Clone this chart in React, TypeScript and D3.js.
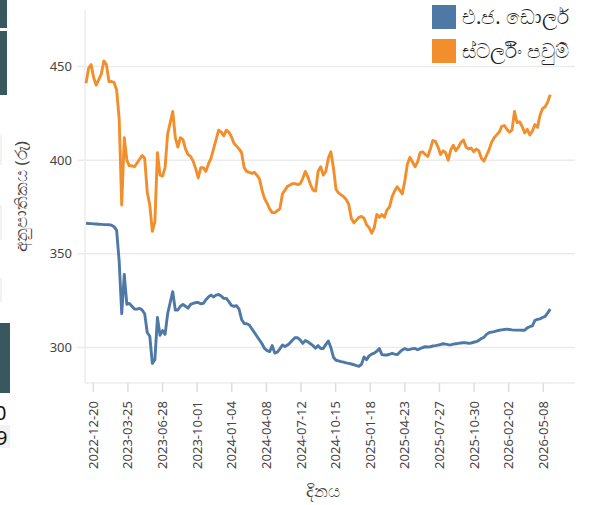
import React from "react";
import * as d3 from "d3";

const SERIES_NAMES = ["එ.ජ. ඩොලර්", "ස්ටර්ලිං පවුම්"];
const SERIES_COLORS = ["#4e79a7", "#f28e2b"];
const X_TITLE = "දිනය";
const Y_TITLE = "අනුපාතිකය (රු)";
const START_DATE = "2022-11-30";
const STEP_DAYS = 7;

const USD = [
  366.3, 366.2, 366.1, 366, 365.9, 365.8, 365.7, 365.6, 365.6, 365.5,
  365.3, 364.5, 362.5, 346, 318, 339, 323, 323.5, 322, 320.5,
  320.5, 320.9, 320, 318, 308, 306, 291.5, 293.5, 316, 306.5,
  309, 307, 318, 324, 329.8, 320, 320, 322, 323, 322,
  321, 323, 323.5, 324, 324, 323.3, 323.6, 325.5, 327, 328,
  327, 328, 328.3, 327.5, 326.2, 326.2, 324.5, 322.5, 322, 322.3,
  320.5, 315, 312.8, 312.7, 312, 310, 308, 306, 304, 302,
  299.5, 298.3, 297.8, 301, 297, 297.5, 299.3, 301.3, 300.5, 301.3,
  302.5, 304, 305.3, 305.2, 304, 302.2, 303.7, 303, 302, 301,
  299.6, 301, 299.5, 299.5, 301.5, 303.5, 300, 294.8, 293.2, 292.9,
  292.5, 292.2, 291.8, 291.5, 291.2, 290.8, 290.3, 290, 291, 295,
  293.5, 295.5, 296.5, 297, 298, 299.4, 296.2, 296, 296, 296.4,
  296.9, 296.5, 296.2, 297.5, 298.7, 299.5, 298.8, 299, 299.4, 299.5,
  298.8, 299.4, 300, 300.4, 300.3, 300.4, 300.8, 301, 301.3, 301.6,
  302, 301.8, 301.5, 301.4, 301.8, 302, 302.2, 302.4, 302.6, 302.5,
  302.3, 302.4, 302.8, 303.1, 303.8, 304.8, 305.4, 307, 307.9, 308.2,
  308.5, 308.9, 309.2, 309.4, 309.6, 309.8, 309.6, 309.4, 309.3, 309.3,
  309.3, 309.2, 309.2, 310.5, 311.1, 311.5, 314.5, 315, 315.3, 316,
  316.6, 318.5, 320.5,
];

const GBP = [
  441, 449, 451, 444, 440, 443, 446, 453, 451, 442,
  442, 441.5, 437.5, 422, 376, 412, 400, 397, 397, 396.5,
  398.5, 400.5, 402.5, 401, 383, 376, 362, 367, 404, 392,
  391.5, 396, 414, 420, 426, 412, 407, 412, 411, 406,
  403, 402, 399.5, 395.5, 390.5, 396, 396, 394, 398, 401,
  406, 411, 416, 415, 413, 416, 415, 412.5, 409, 407.5,
  406, 404, 396, 394, 393.5, 393, 393.5, 392, 390, 384,
  379.5, 377, 374, 372, 372, 373, 374, 382, 384, 386,
  386.7, 387.5, 387.5, 387, 387.5, 390.3, 394, 391, 387, 384,
  383.5, 394, 396.5, 392, 394, 401, 404.5, 396, 384.5, 382.5,
  381.5, 380.5, 379, 376.5, 369, 366.5, 368, 369.5, 370, 369,
  365.5, 364, 361, 364, 371, 369.5, 371, 369.5, 373.4, 375,
  380.5, 383.5, 385.8, 384, 382, 389, 398, 401.5, 399, 396.5,
  399, 404, 404.5, 403, 402, 406, 410.5, 410, 407, 403,
  405, 404, 400, 405.5, 408, 405, 407, 409.5, 410.8, 407,
  406, 406.5, 404.5, 406, 405, 401, 399.5, 402.5, 405.5, 409.5,
  412, 413.5, 415, 418, 418.5, 416.5, 415, 416, 426, 420,
  420.5, 418, 414.5, 416.5, 413.5, 415.5, 419, 417.5, 424, 427.5,
  428.5, 431, 435,
];

const X_TICKS = [
  "2022-12-20", "2023-03-25", "2023-06-28", "2023-10-01", "2024-01-04",
  "2024-04-08", "2024-07-12", "2024-10-15", "2025-01-18", "2025-04-23",
  "2025-07-27", "2025-10-30", "2026-02-02", "2026-05-08",
];
const Y_TICKS = [300, 350, 400, 450];

export default function App() {
  const W = 592;
  const H = 505;
  const left = 85, right = 575, top = 10, bottom = 383;
  const parse = d3.utcParse("%Y-%m-%d");
  const start = parse(START_DATE) as Date;
  const dates = USD.map((_, i) => d3.utcDay.offset(start, i * STEP_DAYS));
  const tickDates = X_TICKS.map((s) => parse(s) as Date);
  const DAY = 864e5;
  const x = d3
    .scaleUtc()
    .domain([
      new Date(tickDates[0].getTime() - 22.8 * DAY),
      new Date(tickDates[tickDates.length - 1].getTime() + 87 * DAY),
    ])
    .range([left, right]);
  const y = d3.scaleLinear().domain([281.05, 480.16]).range([bottom, top]);

  const line = d3
    .line<number>()
    .x((_, i) => x(dates[i]))
    .y((d) => y(d));

  const font = "'Noto Sans', 'Open Sans', sans-serif";
  const gridColor = "#ececec";

  return (
    <svg
      width={W}
      height={H}
      style={{ position: "absolute", left: 0, top: 0, background: "#fff" }}
      fontFamily={font}
    >
      {/* cut-off page fragments at left edge */}
      <rect x={0} y={0} width={7} height={28} fill="#38575f" />
      <rect x={0} y={31} width={7} height={64} fill="#38575f" />
      <rect x={0} y={135} width={2} height={30} fill="#f2f2f2" />
      <rect x={0} y={205} width={2} height={35} fill="#f2f2f2" />
      <rect x={0} y={278} width={2} height={24} fill="#f2f2f2" />
      <rect x={0} y={323} width={10} height={70} fill="#38575f" />
      <rect x={0} y={425} width={10} height={23} fill="#f2f2f2" />
      <text x={-5} y={420} fontSize={20} fill="#111">0</text>
      <text x={-4} y={445} fontSize={20} fill="#111">9</text>

      {/* gridlines + y ticks */}
      {Y_TICKS.map((t) => (
        <line
          key={t}
          x1={left - 8}
          x2={right}
          y1={y(t)}
          y2={y(t)}
          stroke={gridColor}
          strokeWidth={1.5}
        />
      ))}
      {/* axis lines */}
      <line x1={left} x2={left} y1={top} y2={bottom} stroke={gridColor} strokeWidth={1.5} />
      <line x1={left} x2={right} y1={bottom} y2={bottom} stroke={gridColor} strokeWidth={1.5} />

      {/* y tick labels */}
      {Y_TICKS.map((t) => (
        <text
          key={t}
          x={72}
          y={y(t)}
          dy="0.35em"
          textAnchor="end"
          fontSize={13}
          fill="#444"
        >
          {t}
        </text>
      ))}

      {/* x ticks */}
      {tickDates.map((d, i) => (
        <g key={i} transform={`translate(${x(d)},0)`}>
          <line y1={bottom} y2={bottom + 9} stroke="#dddddd" strokeWidth={1.5} />
          <text
            transform={`translate(0,${bottom + 18}) rotate(-90)`}
            dy="0.35em"
            textAnchor="end"
            fontSize={13}
            fill="#444"
          >
            {X_TICKS[i]}
          </text>
        </g>
      ))}

      {/* axis titles */}
      <text x={323} y={497} textAnchor="middle" fontSize={17} fill="#444">
        {X_TITLE}
      </text>
      <text
        transform={`translate(27,${(top + bottom) / 2}) rotate(-90)`}
        textAnchor="middle"
        fontSize={17}
        fill="#444"
      >
        {Y_TITLE}
      </text>

      {/* lines */}
      <path d={line(USD) || ""} fill="none" stroke={SERIES_COLORS[0]} strokeWidth={2.9} strokeLinejoin="round" />
      <path d={line(GBP) || ""} fill="none" stroke={SERIES_COLORS[1]} strokeWidth={2.9} strokeLinejoin="round" />

      {/* legend */}
      {SERIES_NAMES.map((n, i) => (
        <g key={n} transform={`translate(432,${5 + i * 34})`}>
          <rect width={24} height={24} fill={SERIES_COLORS[i]} />
          <text x={30} y={12} dy="0.35em" fontSize={20} fill="#222">
            {n}
          </text>
        </g>
      ))}
    </svg>
  );
}
